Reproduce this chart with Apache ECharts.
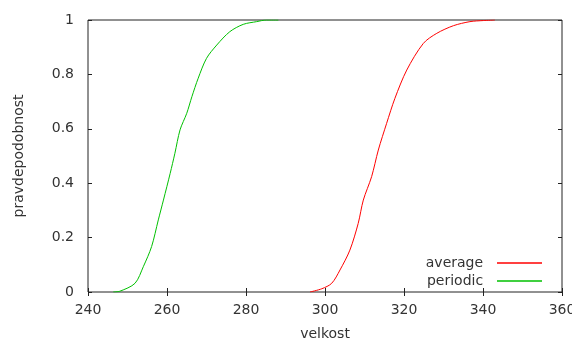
<!DOCTYPE html>
<html>
<head>
<meta charset="utf-8">
<script src="https://cdn.jsdelivr.net/npm/echarts@6/dist/echarts.min.js"></script>
<style>
  html, body { margin: 0; padding: 0; background: #fff; }
  #chart { width: 572px; height: 343px; }
</style>
</head>
<body>
<div id="chart"></div>
<script>
const averageX = [296.2, 299.2, 301.7, 303.8, 306.3, 308.4, 309.7, 311.8, 313.5, 315.6, 317.7, 320.7, 324.9, 328.3, 332.5, 336.7, 340.1, 343.0];
const averageY = [0, 0.012, 0.032, 0.081, 0.154, 0.252, 0.338, 0.424, 0.522, 0.62, 0.712, 0.816, 0.914, 0.951, 0.979, 0.994, 0.998, 1.0];
const periodicX = [246.4, 248.1, 251.9, 254.0, 256.1, 257.8, 259.1, 260.8, 262.0, 263.3, 265.0, 266.3, 267.9, 270.0, 272.6, 275.9, 279.3, 282.7, 285.2, 288.2];
const periodicY = [0, 0.003, 0.032, 0.093, 0.167, 0.265, 0.338, 0.436, 0.51, 0.596, 0.657, 0.718, 0.786, 0.859, 0.908, 0.957, 0.984, 0.994, 1.0, 1.0];

const xTicks = [240, 260, 280, 300, 320, 340, 360];
const yTicks = [0, 0.2, 0.4, 0.6, 0.8, 1];

const FONT = "DejaVu Sans";
const LABEL_COLOR = "#333";
const FRAME_COLOR = "#222";

const zip = (xs, ys) => xs.map((x, i) => [x, ys[i]]);

const chart = echarts.init(document.getElementById("chart"));

const tick = { show: true, inside: true, length: 4, lineStyle: { color: FRAME_COLOR } };
const noLine = { show: false };

// one legend per entry so both keys line up at the right edge, gnuplot-style
const legendItem = (name, top) => ({
  data: [name],
  right: 30,
  top,
  padding: 0,
  align: "right",
  icon: "rect",
  itemWidth: 45,
  itemHeight: 1.5,
  itemGap: 0,
  formatter: (n) => n + "  ",
  textStyle: { fontFamily: FONT, fontSize: 14, color: LABEL_COLOR },
});

chart.setOption({
  animation: false,
  textStyle: { fontFamily: FONT },
  grid: {
    left: 88, right: 10, top: 20, bottom: 51,
    outerBoundsMode: "none",
    containLabel: false,
    show: true, borderColor: FRAME_COLOR, borderWidth: 1, backgroundColor: "transparent",
  },
  legend: [legendItem("average", 256), legendItem("periodic", 274)],
  xAxis: [
    {
      type: "value",
      min: xTicks[0],
      max: xTicks[xTicks.length - 1],
      interval: 20,
      name: "velkost",
      nameLocation: "middle",
      nameGap: 35,
      nameTextStyle: { fontFamily: FONT, fontSize: 14, color: LABEL_COLOR },
      axisLine: noLine,
      axisTick: tick,
      splitLine: { show: false },
      axisLabel: { color: LABEL_COLOR, fontSize: 14, fontFamily: FONT, margin: 11 },
    },
    {
      type: "value",
      position: "top",
      min: xTicks[0],
      max: xTicks[xTicks.length - 1],
      interval: 20,
      axisLine: noLine,
      axisTick: tick,
      splitLine: { show: false },
      axisLabel: { show: false },
    },
  ],
  yAxis: [
    {
      type: "value",
      min: yTicks[0],
      max: yTicks[yTicks.length - 1],
      interval: 0.2,
      name: "pravdepodobnost",
      nameLocation: "middle",
      nameGap: 62,
      nameTextStyle: { fontFamily: FONT, fontSize: 14, color: LABEL_COLOR },
      axisLine: noLine,
      axisTick: tick,
      splitLine: { show: false },
      axisLabel: { color: LABEL_COLOR, fontSize: 14, fontFamily: FONT, margin: 14 },
    },
    {
      type: "value",
      position: "right",
      min: yTicks[0],
      max: yTicks[yTicks.length - 1],
      interval: 0.2,
      axisLine: noLine,
      axisTick: tick,
      splitLine: { show: false },
      axisLabel: { show: false },
    },
  ],
  series: [
    {
      name: "average",
      type: "line",
      data: zip(averageX, averageY),
      showSymbol: false,
      smooth: 0.3,
      color: "#ff0000",
      lineStyle: { width: 1, color: "#ff0000" },
    },
    {
      name: "periodic",
      type: "line",
      data: zip(periodicX, periodicY),
      showSymbol: false,
      smooth: 0.3,
      color: "#00c000",
      lineStyle: { width: 1, color: "#00c000" },
    },
  ],
});
</script>
</body>
</html>
